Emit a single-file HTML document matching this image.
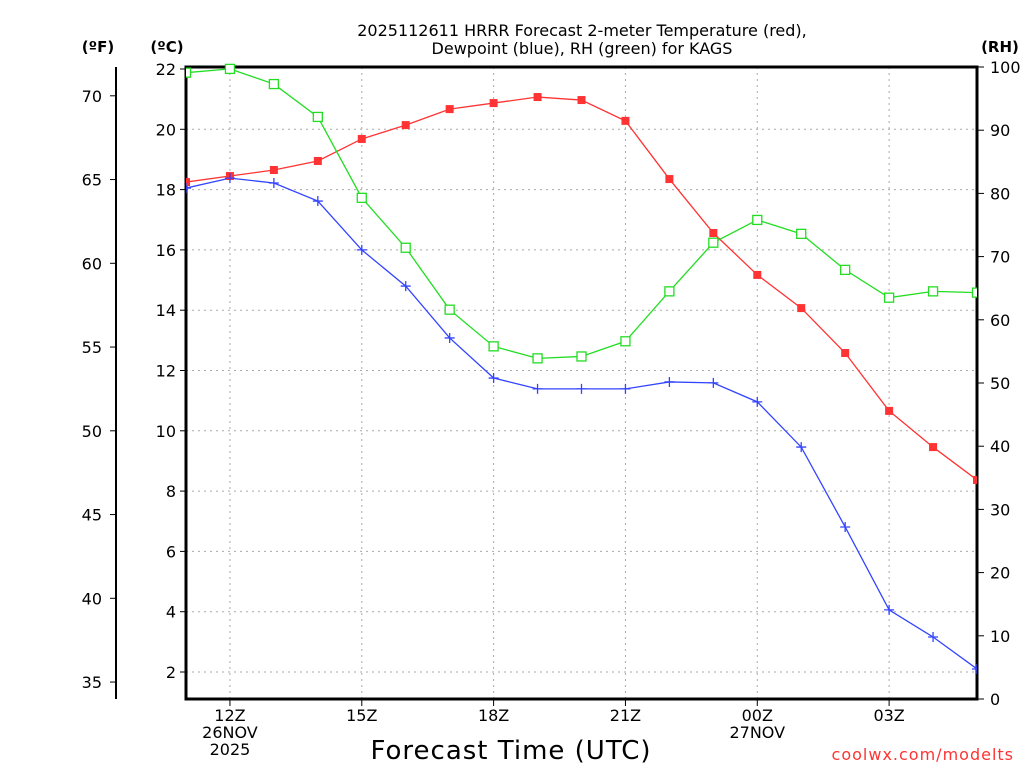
<!DOCTYPE html>
<html><head><meta charset="utf-8">
<style>
html,body{margin:0;padding:0;background:#fff;}
svg{display:block;font-family:"DejaVu Sans","Liberation Sans",sans-serif;}
</style></head>
<body>
<svg id="chart" width="1024" height="768" viewBox="0 0 1024 768" xmlns="http://www.w3.org/2000/svg">
<text x="582" y="36" font-size="16" text-anchor="middle" fill="#000">2025112611 HRRR Forecast 2-meter Temperature (red),</text>
<text x="582" y="54" font-size="16" text-anchor="middle" fill="#000">Dewpoint (blue), RH (green) for KAGS</text>
<text x="98" y="52" font-size="15" font-weight="bold" text-anchor="middle">(ºF)</text>
<text x="167" y="52" font-size="15" font-weight="bold" text-anchor="middle">(ºC)</text>
<text x="1000" y="52" font-size="15" font-weight="bold" text-anchor="middle">(RH)</text>
<text x="511" y="759" font-size="26" text-anchor="middle" letter-spacing="1">Forecast Time (UTC)</text>
<text x="1014" y="760" font-size="16" text-anchor="end" fill="#ff3333" letter-spacing="1">coolwx.com/modelts</text>
<g id="grid"></g>
<g id="axes"></g>
<g id="series"></g>
</svg>
<script>
const hours = [11,12,13,14,15,16,17,18,19,20,21,22,23,24,25,26,27,28,29];
const tempC = [18.25,18.45,18.65,18.95,19.68,20.14,20.67,20.87,21.07,20.97,20.28,18.35,16.56,15.17,14.07,12.58,10.66,9.46,8.37];
const dewC = [18.05,18.38,18.22,17.62,16.0,14.8,13.08,11.75,11.39,11.39,11.39,11.62,11.59,10.96,9.46,6.81,4.06,3.16,2.1];
const rh = [99.1,99.7,97.3,92.1,79.3,71.4,61.6,55.8,53.9,54.2,56.6,64.5,72.2,75.8,73.6,67.9,63.5,64.5,64.3];
const cTicks = [2,4,6,8,10,12,14,16,18,20,22];
const fTicks = [35,40,45,50,55,60,65,70];
const rhTicks = [0,10,20,30,40,50,60,70,80,90,100];
const xTickHours = [12,15,18,21,24,27];
const xTickLabels = [["12Z","26NOV","2025"],["15Z"],["18Z"],["21Z"],["00Z","27NOV"],["03Z"]];

const L=186,R=977,T=67,B=699;
const x = h => L + (h-11)*(R-L)/18;
const yC = c => 672 - (c-2)*30.15;
const yF = f => yC((f-32)/1.8);
const yRH = r => B - r*(B-T)/100;
const NS="http://www.w3.org/2000/svg";
function mk(tag, attrs, parent){const e=document.createElementNS(NS,tag);for(const k in attrs)e.setAttribute(k,attrs[k]);parent.appendChild(e);return e;}
const grid=document.getElementById('grid'), axes=document.getElementById('axes'), series=document.getElementById('series');

cTicks.forEach(c=>{
  if(c<22){const g=mk('line',{x1:L,x2:R,y1:yC(c),y2:yC(c),stroke:'#aaa','stroke-dasharray':'2,4','stroke-width':1},grid);
  
  }
  const t=mk('line',{x1:L-6,x2:L,y1:yC(c),y2:yC(c),stroke:'#000'},axes);
  
  
  const l=mk('text',{x:L-10,y:yC(c)+6,'font-size':16,'text-anchor':'end'},axes);l.textContent=c;
  
  
});
xTickHours.forEach((h,i)=>{
  const g=mk('line',{x1:x(h),x2:x(h),y1:T,y2:B,stroke:'#aaa','stroke-dasharray':'2,4'},grid);
  
  
  const t=mk('line',{x1:x(h),x2:x(h),y1:B,y2:B+7,stroke:'#000'},axes);
  
  
  xTickLabels[i].forEach((s,j)=>{const l=mk('text',{x:x(h),y:B+22+j*17,'font-size':16,'text-anchor':'middle'},axes);l.textContent=s;
  
  });
});
const fl=mk('line',{x1:116,x2:116,y1:T,y2:B,stroke:'#000','stroke-width':2},axes);


fTicks.forEach(f=>{
  const t=mk('line',{x1:110,x2:116,y1:yF(f),y2:yF(f),stroke:'#000'},axes);
  
  
  const l=mk('text',{x:102,y:yF(f)+6,'font-size':16,'text-anchor':'end'},axes);l.textContent=f;
  
  
});
rhTicks.forEach(r=>{
  const t=mk('line',{x1:R,x2:R+7,y1:yRH(r),y2:yRH(r),stroke:'#000'},axes);
  
  
  const l=mk('text',{x:R+13,y:yRH(r)+6,'font-size':16,'text-anchor':'start'},axes);l.textContent=r;
  
  
});
const fr=mk('rect',{x:L,y:T,width:R-L,height:B-T,fill:'none',stroke:'#000','stroke-width':3},axes);



const clip=mk('clipPath',{id:'pc'},series);mk('rect',{x:L,y:T-6,width:R-L,height:B-T+6},clip);
const sg=mk('g',{'clip-path':'url(#pc)'},series);
function line(vals,yf,color,name){
  const p=mk('polyline',{points:vals.map((v,i)=>x(hours[i])+','+yf(v)).join(' '),fill:'none',stroke:color,'stroke-width':1.3},sg);
  
  
}
line(tempC,yC,'#ff3333','temperature-line');
line(dewC,yC,'#3344ff','dewpoint-line');
line(rh,yRH,'#22dd22','rh-line');
tempC.forEach((v,i)=>{const m=mk('rect',{x:x(hours[i])-4,y:yC(v)-4,width:8,height:8,fill:'#ff3333'},sg);
  
  });
dewC.forEach((v,i)=>{const m=mk('path',{d:`M${x(hours[i])-5},${yC(v)}h10M${x(hours[i])},${yC(v)-5}v10`,stroke:'#3344ff','stroke-width':1.3},sg);
  
  });
rh.forEach((v,i)=>{const m=mk('rect',{x:x(hours[i])-4.5,y:yRH(v)-4.5,width:9,height:9,fill:'#fff',stroke:'#22dd22','stroke-width':1.3},sg);
  
  });
</script>
</body></html>
